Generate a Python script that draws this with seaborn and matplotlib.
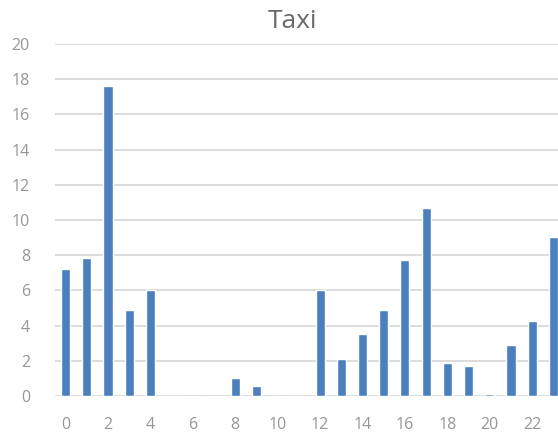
import numpy as np
import seaborn as sns
import matplotlib.pyplot as plt
import pandas as pd

sns.set_style('white')
plt.rcParams['font.family'] = ['Open Sans', 'DejaVu Sans']

hours = list(range(24))
taxi = [7.2, 7.85, 17.6, 4.9, 6.0, 0, 0, 0, 1.0, 0.57, 0, 0,
        6.05, 2.08, 3.5, 4.9, 7.75, 10.7, 1.85, 1.72, 0.1, 2.9, 4.25, 9.05]
y_ticks = list(range(0, 21, 2))
x_tick_labels = [str(h) for h in range(0, 24, 2)]

df = pd.DataFrame({'hour': hours, 'value': taxi})

fig = plt.figure(figsize=(5.58, 4.36), dpi=100)
ax = fig.add_axes([55 / 558, 40 / 436, 509 / 558, 352 / 436])

sns.barplot(x='hour', y='value', data=df, color='#4c7fbd', width=0.43,
            saturation=1, ax=ax, zorder=3)

ax.set_ylim(0, 20)
ax.set_xlim(-0.5, 23.5)
ax.set_yticks(y_ticks)
ax.set_xticks(range(0, 24, 2))
ax.set_xticklabels(x_tick_labels)
ax.yaxis.grid(True, color='#d9d9d9', linewidth=1.3, zorder=0)
ax.xaxis.grid(False)
for s in ax.spines.values():
    s.set_visible(False)
ax.tick_params(axis='both', length=0, labelsize=11.5, colors='#969696')
ax.tick_params(axis='x', pad=15)
ax.tick_params(axis='y', pad=18)
ax.set_xlabel('')
ax.set_ylabel('')

fig.text(292 / 558, 1 - 22 / 436, 'Taxi', ha='center', va='center',
         fontsize=19, color='#6a6a6a')

fig.savefig('out.png', dpi=100)
